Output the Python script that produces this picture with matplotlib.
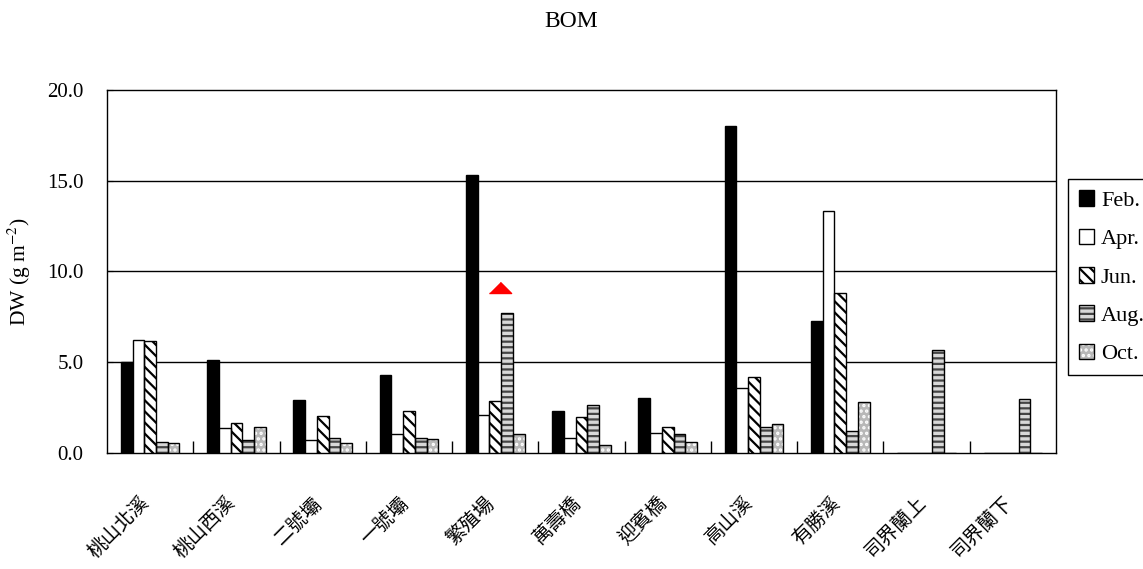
import numpy as np
import matplotlib
matplotlib.use('Agg')
import matplotlib.pyplot as plt
import matplotlib.transforms as mtrans
from matplotlib.patches import Patch
from matplotlib.legend_handler import HandlerTuple

plt.rcParams['font.family'] = ['Liberation Serif', 'Noto Sans CJK TC']
plt.rcParams['mathtext.fontset'] = 'stix'
plt.rcParams['hatch.linewidth'] = 1.6

sites = ['桃山北溪', '桃山西溪', '二號壩', '一號壩', '繁殖場', '萬壽橋',
         '迎賓橋', '高山溪', '有勝溪', '司界蘭上', '司界蘭下']
months = ['Feb.', 'Apr.', 'Jun.', 'Aug.', 'Oct.']

feb = [5.0, 5.1, 2.9, 4.3, 15.3, 2.3, 3.05, 18.0, 7.25, 0, 0]
apr = [6.25, 1.35, 0.7, 1.05, 2.1, 0.85, 1.1, 3.6, 13.35, 0, 0]
jun = [6.15, 1.65, 2.05, 2.3, 2.85, 2.0, 1.45, 4.2, 8.8, 0, 0]
aug = [0.6, 0.7, 0.85, 0.85, 7.7, 2.65, 1.05, 1.45, 1.2, 5.65, 2.95]
octo = [0.55, 1.45, 0.55, 0.75, 1.05, 0.45, 0.6, 1.6, 2.8, 0, 0]

# red marker above 繁殖場
mark_site = '繁殖場'
mark_val = 8.8

series = [feb, apr, jun, aug, octo]
# (face, hatch, hatch colour)
styles = [('black', None, None),
          ('white', None, None),
          ('white', '\\\\\\', 'black'),
          ('#d8d8d8', '---', '#444444'),
          ('#b8b8b8', '...', 'white')]

fig = plt.figure(figsize=(11.43, 5.69), dpi=100)
ax = fig.add_axes([0.0936, 0.2039, 0.8303, 0.6379])

x = np.arange(len(sites))
w = 0.136
handles = []
for k, (vals, (fc, hatch, hc)) in enumerate(zip(series, styles)):
    pos = x + (k - 2) * w
    if hatch:
        ax.bar(pos, vals, w, color=fc, hatch=hatch, edgecolor=hc,
               linewidth=0, zorder=3)
    ax.bar(pos, vals, w, fill=(hatch is None), facecolor=fc,
           edgecolor='black', linewidth=1.0, zorder=4)
    p_out = Patch(facecolor=fc, edgecolor='black', linewidth=1.0, fill=(hatch is None))
    if hatch:
        p_in = Patch(facecolor=fc, hatch=hatch, edgecolor=hc, linewidth=0)
        handles.append((p_in, p_out))
    else:
        handles.append(p_out)

mi = sites.index(mark_site)
ax.plot(mi + 0.06, mark_val, marker=[(-1, 0), (1, 0), (0, 1)],
        markersize=16, color='red', linestyle='none', zorder=5)

ax.set_xlim(-0.5, len(sites) - 0.5)
ax.set_ylim(0, 20)
ax.set_yticks([0, 5, 10, 15, 20])
ax.set_yticklabels(['%.1f' % v for v in [0, 5, 10, 15, 20]])
for yv in [5, 10, 15]:
    ax.axhline(yv, color='black', linewidth=1.0, zorder=1)

ax.set_xticks(x)
ax.set_xticklabels(sites, rotation=45, ha='right', rotation_mode='anchor')
ax.set_xticks(np.arange(len(sites) - 1) + 0.5, minor=True)
ax.tick_params(axis='x', which='major', length=0, labelsize=14, pad=29)
ax.tick_params(axis='x', which='minor', length=9, direction='in', width=1)
ax.tick_params(axis='y', length=4, direction='in', labelsize=15, pad=17)
shift = mtrans.ScaledTranslation(-0.1, 0, fig.dpi_scale_trans)
for lab in ax.get_xticklabels():
    lab.set_transform(lab.get_transform() + shift)
for s in ax.spines.values():
    s.set_linewidth(1.0)

ax.set_ylabel('DW (g m$^{-2}$)', fontsize=15.5, labelpad=10)
fig.text(0.5, 0.962, 'BOM', ha='center', va='center', fontsize=17)

leg = fig.legend(handles, months, loc='upper left',
                 bbox_to_anchor=(0.934, 0.685), fontsize=16,
                 handler_map={tuple: HandlerTuple(ndivide=1, pad=0)},
                 handlelength=0.7, handleheight=0.7, handletextpad=0.3,
                 labelspacing=0.8, borderpad=0.5, borderaxespad=0,
                 fancybox=False, framealpha=1, edgecolor='black')
leg.get_frame().set_linewidth(1.0)

fig.savefig('out.png', dpi=100)
